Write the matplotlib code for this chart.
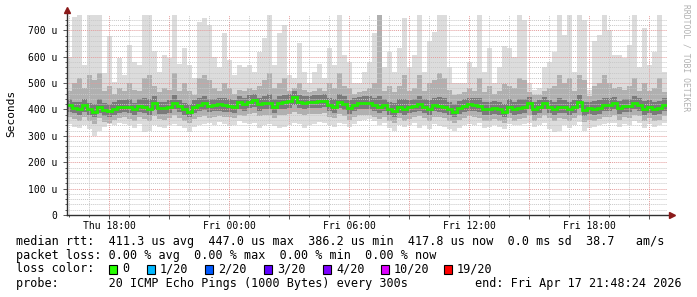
import datetime as dt
import numpy as np
import matplotlib
matplotlib.use("Agg")
import matplotlib.pyplot as plt
import matplotlib.dates as mdates
from matplotlib.ticker import MultipleLocator, FuncFormatter
from matplotlib.patches import Rectangle

plt.rcParams['font.family'] = ['DejaVu Sans Mono']

# 15 minute samples, 30 hours ending Fri 21:53
start = dt.datetime(2026, 4, 16, 15, 53)
n_steps = 120
step = dt.timedelta(minutes=15)

# median rtt (us)
median = [417, 407, 403, 417, 400, 392, 410, 398, 396, 402,
          410, 411, 408, 400, 414, 408, 403, 423, 405, 404,
          410, 426, 412, 400, 391, 408, 418, 423, 414, 417,
          419, 417, 415, 410, 428, 419, 430, 437, 419, 424,
          426, 410, 426, 427, 432, 447, 430, 426, 428, 430,
          431, 432, 417, 410, 430, 420, 405, 417, 423, 423,
          426, 417, 410, 417, 403, 395, 410, 403, 408, 414,
          419, 410, 403, 417, 414, 410, 400, 391, 405, 412,
          419, 417, 412, 401, 400, 407, 403, 391, 410, 403,
          406, 410, 423, 400, 410, 423, 410, 400, 410, 408,
          400, 410, 428, 398, 405, 402, 406, 417, 417, 423,
          405, 415, 413, 423, 418, 403, 410, 400, 404, 418]

# slowest ping of each sample (light smoke top)
ping_max = [600, 750, 770, 570, 770, 770, 770, 540, 680, 505,
            594, 530, 644, 579, 570, 770, 770, 620, 541, 606,
            594, 770, 573, 633, 568, 519, 731, 748, 720, 600,
            560, 690, 587, 530, 568, 560, 568, 541, 617, 670,
            770, 568, 690, 719, 530, 519, 652, 541, 500, 541,
            573, 519, 633, 568, 770, 606, 579, 500, 500, 541,
            579, 690, 770, 560, 617, 541, 633, 748, 560, 606,
            770, 541, 659, 693, 770, 770, 560, 500, 500, 500,
            579, 560, 770, 541, 633, 500, 560, 640, 633, 600,
            770, 740, 500, 475, 480, 560, 580, 617, 770, 681,
            770, 541, 770, 740, 475, 659, 681, 770, 700, 606,
            606, 594, 644, 770, 560, 708, 568, 617, 770, 541]

# upper quartile-ish ping (medium smoke top)
ping_hi = [470, 500, 520, 480, 530, 510, 540, 470, 490, 460,
           480, 470, 500, 475, 470, 520, 530, 490, 465, 480,
           475, 540, 470, 500, 470, 455, 520, 530, 510, 480,
           470, 500, 480, 460, 475, 470, 480, 475, 490, 510,
           540, 480, 500, 520, 470, 480, 500, 475, 465, 470,
           480, 470, 500, 480, 540, 490, 480, 460, 465, 470,
           480, 500, 770, 470, 490, 465, 490, 530, 470, 480,
           530, 470, 500, 510, 540, 520, 475, 455, 460, 465,
           480, 470, 520, 465, 490, 460, 470, 495, 490, 480,
           520, 510, 465, 455, 455, 470, 480, 490, 530, 500,
           520, 470, 530, 510, 450, 490, 500, 530, 500, 480,
           485, 475, 490, 520, 470, 500, 470, 480, 520, 465]

# pings just above the median (dark smoke top)
ping_near_hi = [440, 430, 428, 440, 425, 420, 440, 425, 420, 430,
                435, 435, 440, 425, 440, 445, 440, 450, 430, 428,
                435, 455, 435, 425, 420, 435, 445, 450, 440, 440,
                442, 445, 440, 435, 452, 445, 455, 460, 445, 450,
                460, 440, 452, 455, 458, 470, 455, 450, 450, 455,
                455, 458, 445, 440, 460, 450, 435, 442, 448, 450,
                452, 445, 450, 440, 430, 425, 440, 440, 435, 440,
                450, 438, 435, 445, 448, 445, 430, 420, 432, 440,
                445, 442, 445, 428, 430, 432, 430, 422, 438, 430,
                440, 440, 448, 428, 435, 448, 436, 428, 445, 435,
                430, 436, 455, 430, 428, 432, 436, 445, 442, 448,
                432, 440, 438, 450, 442, 432, 436, 428, 432, 445]

# pings just below the median (dark smoke bottom)
ping_near_lo = [390, 385, 380, 392, 378, 370, 388, 375, 372, 380,
                388, 390, 385, 378, 392, 385, 380, 398, 383, 382,
                388, 400, 390, 378, 370, 385, 395, 398, 390, 395,
                396, 392, 392, 388, 402, 396, 405, 410, 396, 400,
                402, 388, 402, 403, 407, 418, 405, 400, 404, 406,
                406, 408, 394, 388, 405, 398, 382, 395, 400, 400,
                402, 395, 388, 394, 380, 372, 388, 380, 386, 392,
                396, 388, 380, 394, 392, 388, 378, 370, 382, 390,
                396, 394, 390, 378, 378, 384, 380, 370, 388, 380,
                384, 388, 400, 378, 388, 400, 388, 378, 388, 386,
                378, 388, 404, 376, 382, 380, 384, 395, 394, 400,
                382, 392, 390, 400, 396, 380, 388, 378, 382, 396]

# lower quartile-ish ping (medium smoke bottom)
ping_lo = [370, 362, 358, 372, 356, 345, 368, 352, 350, 360,
           368, 372, 365, 358, 372, 362, 355, 375, 362, 360,
           366, 378, 368, 356, 350, 365, 372, 375, 368, 372,
           375, 370, 372, 366, 380, 375, 382, 385, 374, 378,
           378, 366, 380, 380, 384, 392, 382, 378, 382, 384,
           384, 385, 372, 366, 382, 376, 360, 372, 378, 378,
           380, 372, 365, 372, 358, 350, 366, 358, 364, 370,
           374, 366, 358, 372, 370, 366, 356, 348, 360, 368,
           374, 372, 368, 356, 356, 362, 358, 348, 366, 358,
           362, 366, 378, 356, 366, 378, 366, 355, 366, 364,
           355, 366, 380, 354, 360, 358, 362, 372, 372, 378,
           360, 370, 368, 378, 374, 358, 366, 356, 360, 374]

# fastest ping of each sample (light smoke bottom)
ping_min = [345, 335, 330, 340, 325, 300, 320, 335, 345, 340,
            350, 345, 340, 330, 345, 315, 320, 340, 335, 330,
            340, 345, 338, 330, 315, 335, 340, 345, 350, 342,
            352, 345, 338, 340, 355, 348, 345, 350, 330, 340,
            345, 338, 330, 335, 340, 350, 345, 330, 340, 345,
            352, 348, 340, 335, 350, 345, 332, 345, 355, 360,
            362, 355, 340, 350, 330, 320, 340, 335, 342, 348,
            330, 340, 325, 345, 338, 335, 325, 320, 330, 340,
            345, 340, 350, 330, 335, 340, 335, 325, 345, 340,
            340, 345, 350, 335, 340, 350, 325, 315, 320, 340,
            330, 340, 352, 320, 330, 335, 340, 345, 350, 348,
            335, 345, 340, 355, 350, 330, 345, 335, 340, 350]

loss_labels = ['0', '1/20', '2/20', '3/20', '4/20', '10/20', '19/20']
loss_colors = ['#26ff00', '#00b8ff', '#0059ff', '#5e00ff', '#7e00ff', '#dd00ff', '#ff0000']

legend_lines = [
    'median rtt:  411.3 us avg  447.0 us max  386.2 us min  417.8 us now  0.0 ms sd  38.7   am/s',
    'packet loss: 0.00 % avg  0.00 % max  0.00 % min  0.00 % now',
    'loss color:',
    'probe:       20 ICMP Echo Pings (1000 Bytes) every 300s',
]
end_text = 'end: Fri Apr 17 21:48:24 2026'

W, H = 697, 297
fig = plt.figure(figsize=(W / 100, H / 100), dpi=100)
ax = fig.add_axes([67 / W, 1 - 215 / H, 600 / W, 200 / H])

edges = mdates.date2num([start + step * i for i in range(n_steps + 1)])

ax.stairs(ping_max, edges, baseline=ping_min, fill=True, color='#dcdcdc', lw=0, zorder=1)
ax.stairs(ping_hi, edges, baseline=ping_lo, fill=True, color='#b0b0b0', lw=0, zorder=1.1)
ax.stairs(ping_near_hi, edges, baseline=ping_near_lo, fill=True, color='#7a7a7a', lw=0, zorder=1.2)
ax.stairs(median, edges, baseline=None, color='#20ee00', lw=2.0, zorder=3)

ax.set_xlim(edges[0], edges[-1])
ax.set_ylim(0, 758)

def xfmt(x, pos):
    d = mdates.num2date(x)
    return d.strftime('%a %H:%M') if d.hour % 6 == 0 else ''

ax.xaxis.set_major_locator(mdates.HourLocator(byhour=range(0, 24, 3)))
ax.xaxis.set_minor_locator(mdates.HourLocator(byhour=range(24)))
ax.xaxis.set_major_formatter(FuncFormatter(xfmt))
ax.yaxis.set_major_locator(MultipleLocator(100))
ax.yaxis.set_minor_locator(MultipleLocator(20))
ax.yaxis.set_major_formatter(FuncFormatter(lambda v, p: '0' if v == 0 else '%d u' % v))

ax.set_axisbelow(False)
ax.grid(which='minor', color='#c8c8c8', lw=0.7, linestyle=(0, (1, 1)))
ax.grid(which='major', color='#e39a9a', lw=0.7, linestyle=(0, (1, 1)))
ax.tick_params(which='both', direction='out', color='#404040', labelsize=7, width=0.6)
ax.tick_params(axis='x', which='major', length=3, pad=1)
ax.tick_params(axis='x', which='minor', length=1.5)
ax.tick_params(axis='y', which='major', length=3, pad=4)
ax.tick_params(axis='y', which='minor', length=1.5)

for s in ax.spines.values():
    s.set_visible(False)
ax.plot([0, 0], [0, 1.025], transform=ax.transAxes, color='#303030', lw=1, clip_on=False, zorder=5)
ax.plot([0, 1.008], [0, 0], transform=ax.transAxes, color='#303030', lw=1, clip_on=False, zorder=5)
ax.plot(0, 1.025, marker='^', ms=4, color='#8b1a1a', transform=ax.transAxes, clip_on=False, zorder=6)
ax.plot(1.008, 0, marker='>', ms=4, color='#8b1a1a', transform=ax.transAxes, clip_on=False, zorder=6)

fig.text(11 / W, 1 - 113 / H, 'Seconds', rotation=90, ha='center', va='center', fontsize=8)
fig.text(686 / W, 1 - 4 / H, 'RRDTOOL / TOBI OETIKER', rotation=270, ha='center', va='top',
         fontsize=5.8, color='#b0b0b0')

line_y = [241, 255, 269, 283.5]
for txt, y in zip(legend_lines, line_y):
    fig.text(16 / W, 1 - y / H, txt, ha='left', va='center', fontsize=8.5)
fig.text(682 / W, 1 - line_y[3] / H, end_text, ha='right', va='center', fontsize=8.5)

box_x = [109, 147, 205, 264, 323, 381, 444]
for bx, lab, col in zip(box_x, loss_labels, loss_colors):
    fig.add_artist(Rectangle((bx / W, 1 - (line_y[2] + 4.5) / H), 8 / W, 9 / H,
                             transform=fig.transFigure, facecolor=col, edgecolor='black', lw=0.8))
    fig.text((bx + 13) / W, 1 - line_y[2] / H, lab, ha='left', va='center', fontsize=8.5)

fig.savefig('out.png', dpi=100)
